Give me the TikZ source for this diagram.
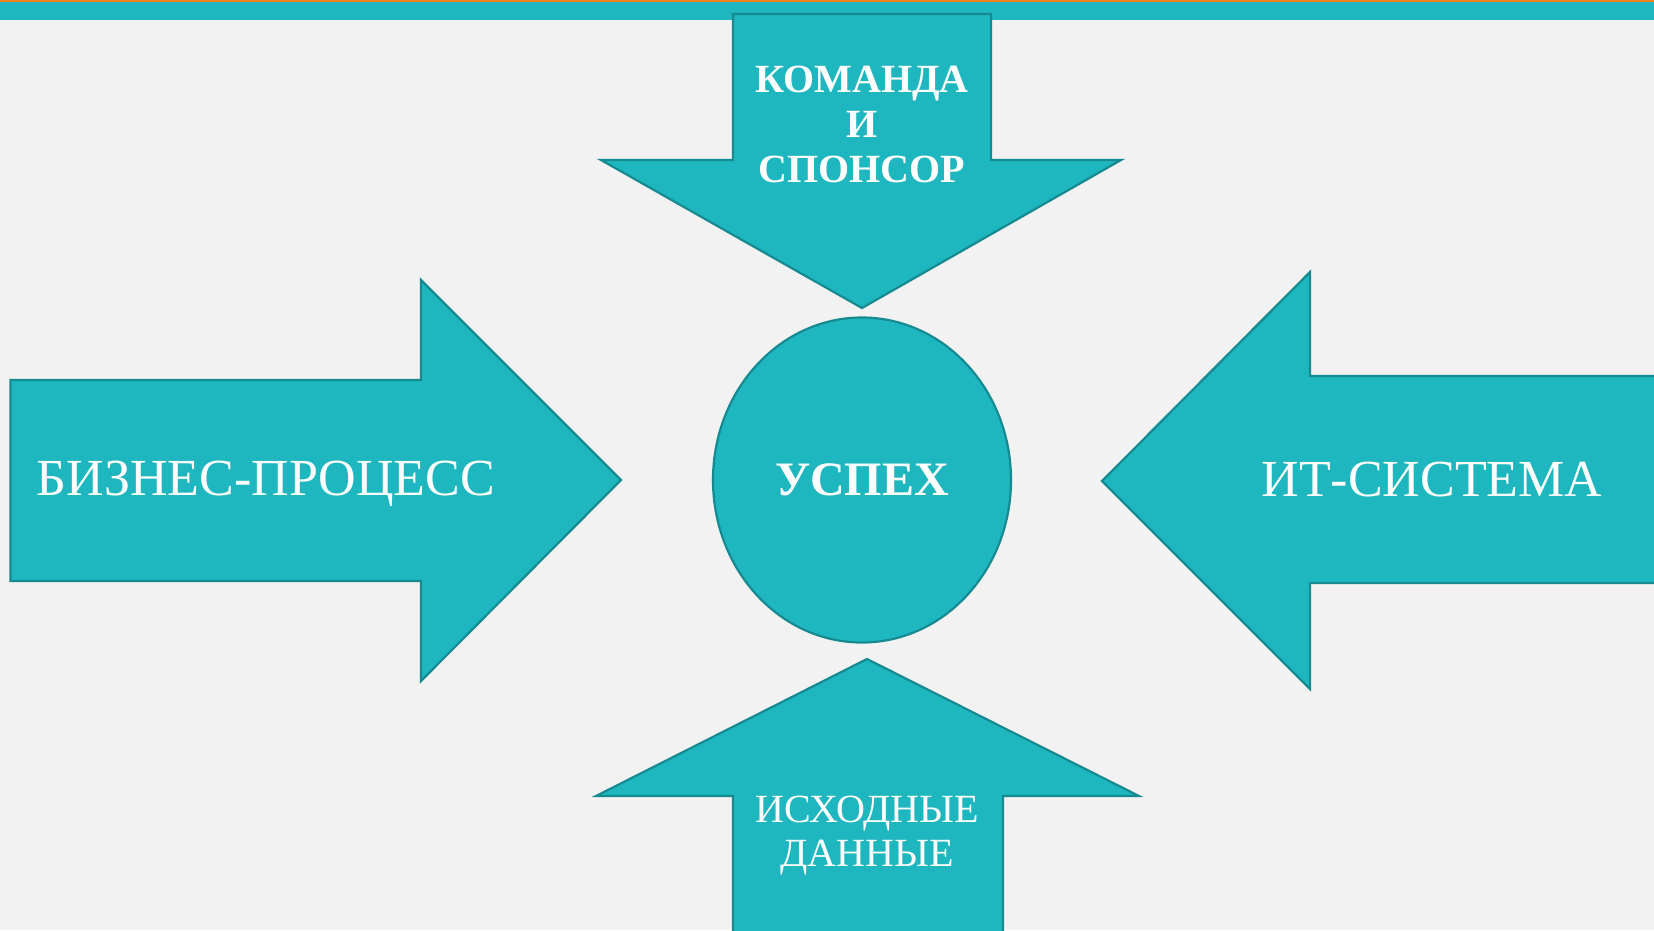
\documentclass[tikz,border=0pt]{standalone}
\usepackage{fontspec}
\setmainfont{Liberation Serif}
\usepackage{xcolor}
\usepackage{tikz}
\usetikzlibrary{positioning}

\definecolor{slidebg}{RGB}{242,242,242}
\definecolor{tealfill}{RGB}{31,183,191}
\definecolor{tealedge}{RGB}{22,138,145}
\definecolor{topline}{RGB}{240,128,32}

\tikzset{
	arrowbody/.style={fill=tealfill,draw=tealedge,line width=2.2pt,line join=miter},
	biglabel/.style={text=white,font=\fontsize{52}{58}\selectfont,align=center},
	smalllabel/.style={text=white,font=\fontsize{40}{44}\selectfont,align=center}
}

\begin{document}
\begin{tikzpicture}[x=1pt,y=-1pt]
		\useasboundingbox (0,0) rectangle (1654,930);
		\fill[slidebg] (0,0) rectangle (1654,930);
		% top band of the slide
		\fill[tealfill] (0,2) rectangle (1654,20);
		\fill[topline] (0,0) rectangle (1654,2.2);
		% four arrows
		\draw[arrowbody] (733,14) -- (991,14) -- (991,160) -- (1121,160) -- (862,308) -- (601,160) -- (733,160) -- cycle;
		\draw[arrowbody] (10.5,380) -- (421,380) -- (421,280) -- (621,480) -- (421,681) -- (421,581) -- (10.5,581) -- cycle;
		\draw[arrowbody] (1660,376) -- (1310,376) -- (1310,272) -- (1102,481) -- (1310,689) -- (1310,583) -- (1660,583) -- cycle;
		\draw[arrowbody] (733,936) -- (733,796) -- (596,796) -- (867,659) -- (1139,796) -- (1003,796) -- (1003,936) -- cycle;
		% centre
		\draw[arrowbody] (862,480) ellipse (149 and 162.5);
		\node[biglabel,font=\fontsize{48}{54}\selectfont\bfseries] (uspeh) at (862,480) {УСПЕХ};
		\node[biglabel] (biznes) at (266,484) {БИЗНЕС-ПРОЦЕСС};
		\node[biglabel] (itsys) at (1432,480) {ИТ-СИСТЕМА};
		\node[smalllabel,font=\fontsize{40}{45}\selectfont\bfseries] (komanda) at (862,124) {КОМАНДА\\И\\СПОНСОР};
		\node[smalllabel] (dannye) at (867,836) {ИСХОДНЫЕ\\ДАННЫЕ};
	\end{tikzpicture}
\end{document}
